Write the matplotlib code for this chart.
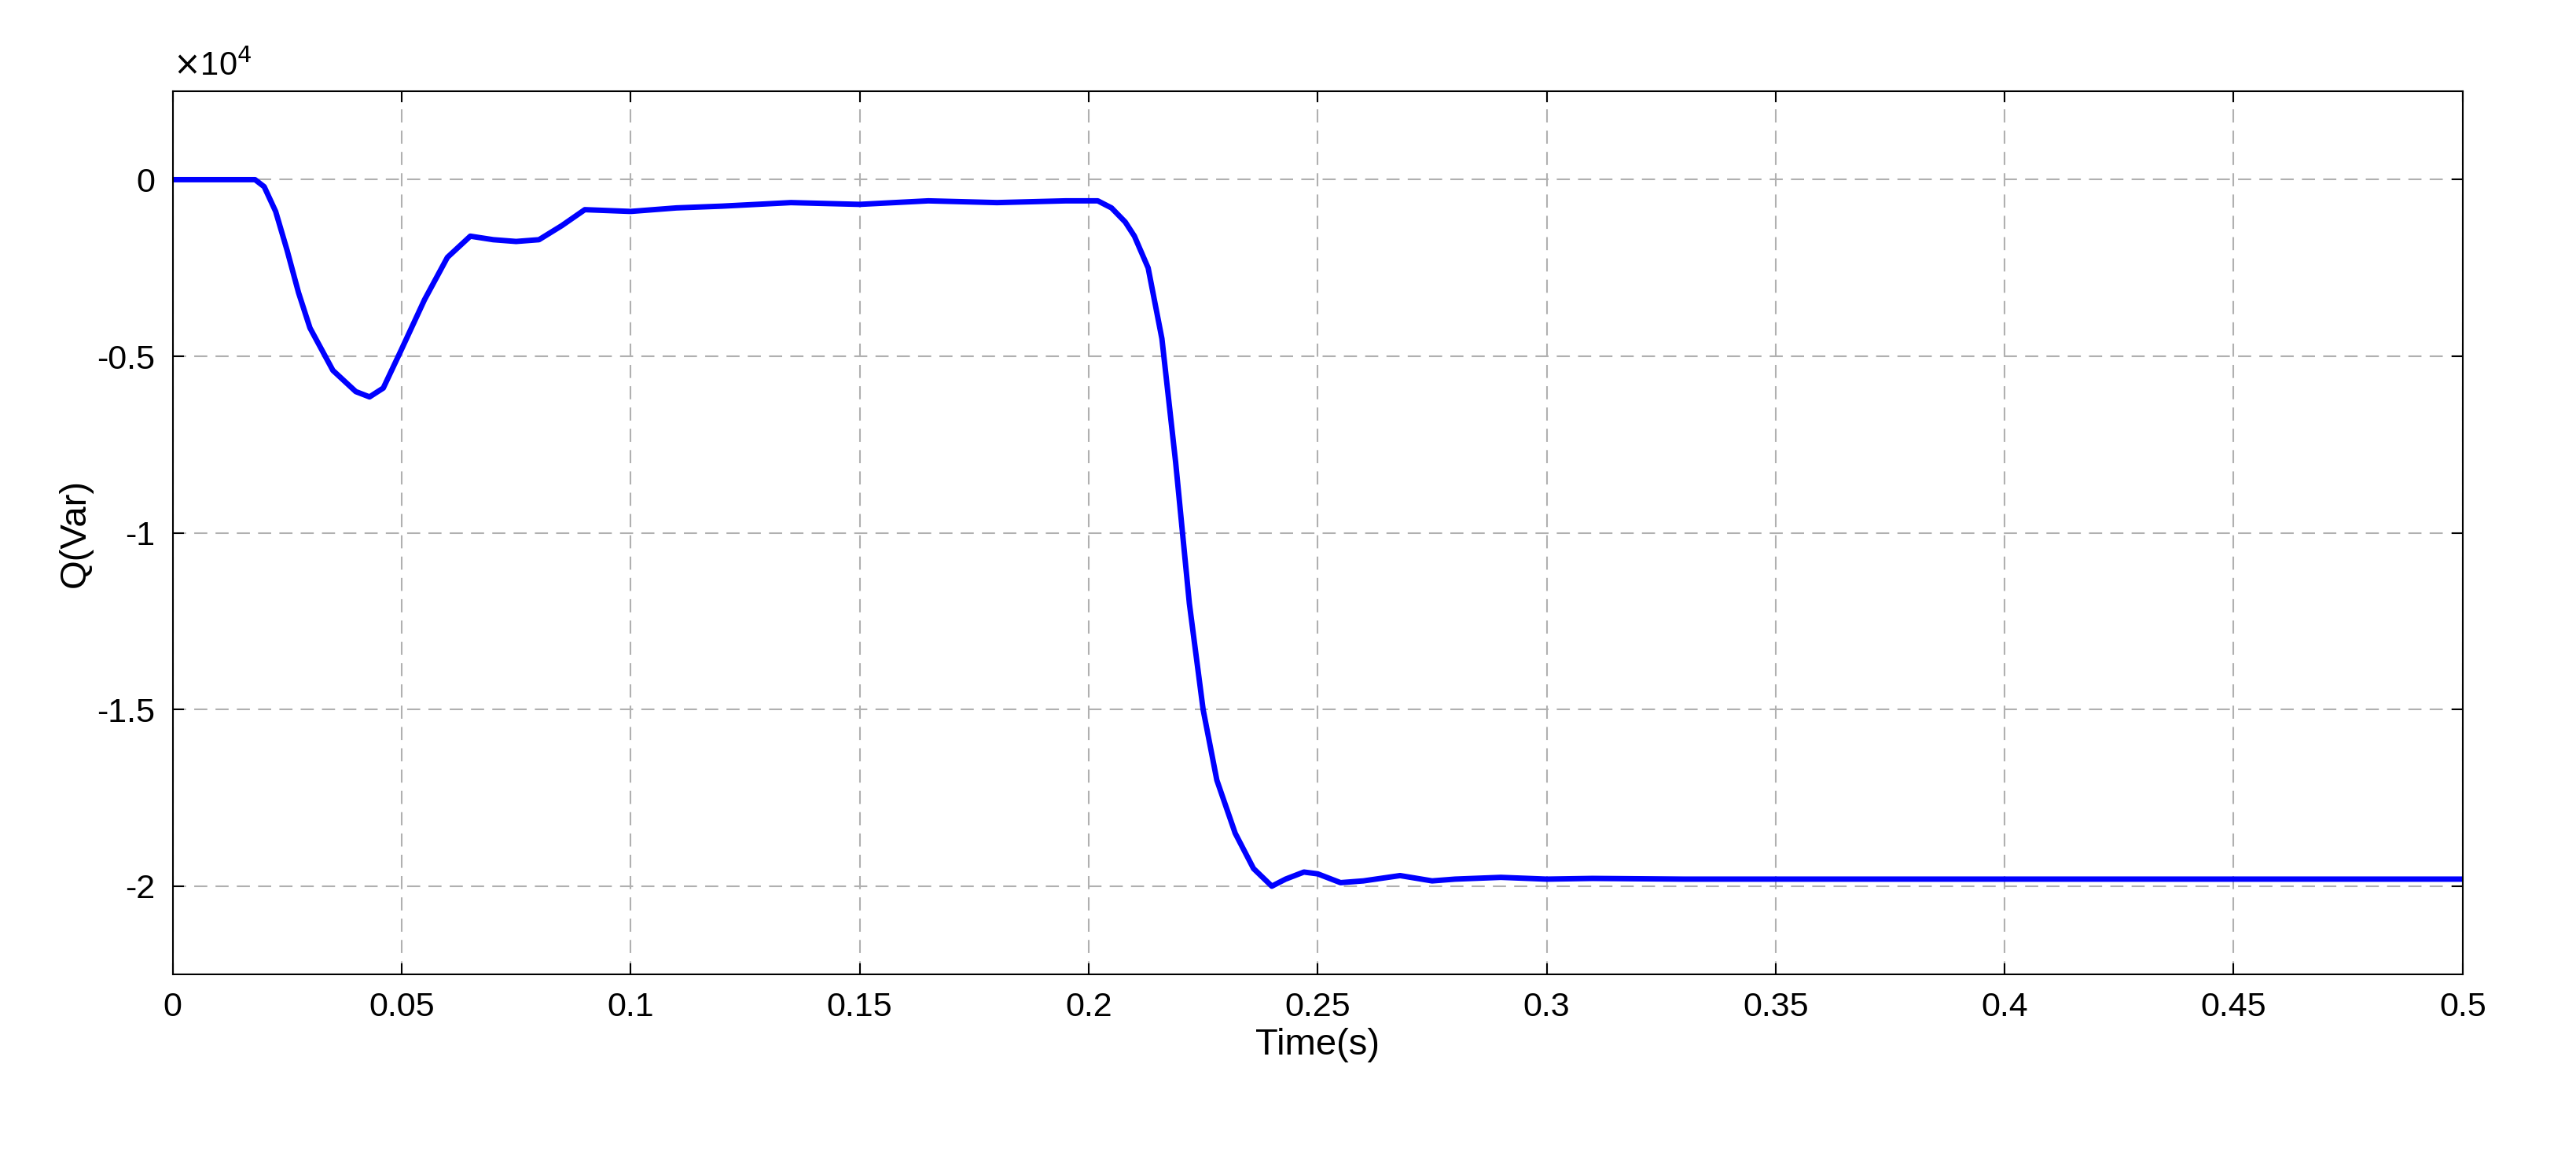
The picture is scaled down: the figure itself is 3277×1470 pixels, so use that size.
import matplotlib
matplotlib.use("Agg")
import matplotlib.pyplot as plt

plt.rcParams['font.family'] = ['Liberation Sans', 'DejaVu Sans']

# time (s) and reactive power (x1e4 Var)
t = [0, 0.018, 0.02, 0.0225, 0.025, 0.0275, 0.03, 0.035, 0.04, 0.043, 0.046, 0.05, 0.055, 0.06,
     0.065, 0.07, 0.075, 0.08, 0.085, 0.09, 0.1, 0.11, 0.12, 0.135, 0.15, 0.165,
     0.18, 0.195, 0.202, 0.205, 0.208, 0.21, 0.213, 0.216, 0.219, 0.222, 0.225, 0.228,
     0.232, 0.236, 0.24, 0.243, 0.247, 0.25, 0.255, 0.26, 0.268, 0.275, 0.28,
     0.29, 0.3, 0.31, 0.33, 0.5]
q = [0, 0, -0.02, -0.09, -0.2, -0.32, -0.42, -0.54, -0.6, -0.615, -0.59, -0.48, -0.34, -0.22,
     -0.16, -0.17, -0.175, -0.17, -0.13, -0.085, -0.09, -0.08, -0.075, -0.065,
     -0.07, -0.06, -0.065, -0.06, -0.06, -0.08, -0.12, -0.16, -0.25, -0.45, -0.8, -1.2,
     -1.5, -1.7, -1.85, -1.95, -2.0, -1.98, -1.96, -1.965, -1.99, -1.985, -1.97,
     -1.985, -1.98, -1.975, -1.98, -1.978, -1.98, -1.98]

xticks = [0, 0.05, 0.1, 0.15, 0.2, 0.25, 0.3, 0.35, 0.4, 0.45, 0.5]
xlabels = ['0', '0.05', '0.1', '0.15', '0.2', '0.25', '0.3', '0.35', '0.4', '0.45', '0.5']
yticks = [-2, -1.5, -1, -0.5, 0]
ylabels = ['-2', '-1.5', '-1', '-0.5', '0']

fig = plt.figure(figsize=(32.77, 14.7), dpi=100)
ax = fig.add_axes([0.067, 0.157, 0.889, 0.764])
ax.plot(t, q, color='#0000ff', linewidth=5)
ax.set_xlim(0, 0.5)
ax.set_ylim(-2.25, 0.25)
ax.set_xticks(xticks)
ax.set_xticklabels(xlabels)
ax.set_yticks(yticks)
ax.set_yticklabels(ylabels)
ax.tick_params(labelsize=31, direction='in', length=10, width=1.5, top=True, right=True, pad=16)
ax.grid(True, linestyle=(0, (8, 5)), color='#b0b0b0', linewidth=1.5)
for s in ax.spines.values():
    s.set_linewidth(1.5)
ax.set_xlabel('Time(s)', fontsize=34)
ax.set_ylabel('Q(Var)', fontsize=34)
ax.text(0, 1.01, r'$\times$10$^4$', transform=ax.transAxes, fontsize=30, va='bottom', ha='left')

fig.savefig('out.png', dpi=100)
